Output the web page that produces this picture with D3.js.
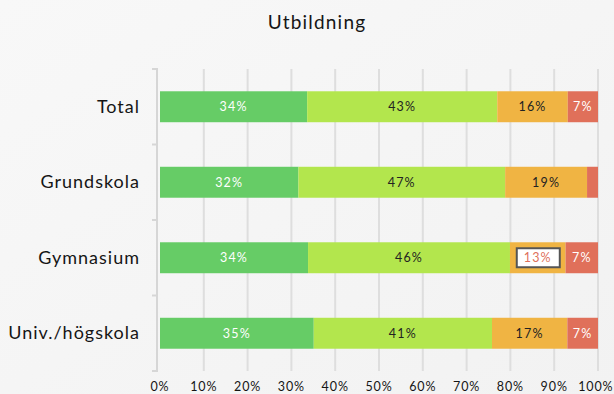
<!DOCTYPE html>
<html>
<head>
<meta charset="utf-8">
<script src="https://cdn.jsdelivr.net/npm/d3@7/dist/d3.min.js"></script>
<style>
  html, body { margin: 0; padding: 0; }
  body { width: 614px; height: 394px; overflow: hidden; }
  svg { display: block; font-family: Lato, "Open Sans", sans-serif; }
</style>
</head>
<body>
<svg id="chart" width="614" height="394"></svg>
<script>
// ---- data ----
const title = "Utbildning";
const categories = ["Total", "Grundskola", "Gymnasium", "Univ./högskola"];
const seriesNames = ["Serie 1", "Serie 2", "Serie 3", "Serie 4"];
const serie1 = [33.6, 31.6, 33.8, 35.1];
const serie2 = [43.4, 47.2, 46.1, 40.7];
const serie3 = [16.1, 18.7, 12.7, 17.2];
const serie4 = [6.9, 2.5, 7.4, 7.0];
const xTicks = [0, 10, 20, 30, 40, 50, 60, 70, 80, 90, 100];
const highlight = { category: "Gymnasium", series: 2 };

const colors = ["#66cc66", "#b3e64d", "#f0b443", "#e0705a"];
const labelColors = ["#ffffff", "#222222", "#222222", "#ffffff"];
const highlightTextColor = "#e0705a";

const svg = d3.select("#chart");
const W = 614, H = 394;

// background
const defs = svg.append("defs");
const grad = defs.append("linearGradient").attr("id", "bg")
  .attr("x1", "0").attr("y1", "0").attr("x2", "1").attr("y2", "1");
grad.append("stop").attr("offset", "0").attr("stop-color", "#f8f8f8");
grad.append("stop").attr("offset", "1").attr("stop-color", "#f2f2f2");
svg.append("rect").attr("width", W).attr("height", H).attr("fill", "url(#bg)");

const x = d3.scaleLinear().domain([0, 100]).range([160, 598]);
const y = d3.scaleBand().domain(categories).range([69, 371])
  .paddingInner(0.59).paddingOuter(0.295);
const yFull = d3.scaleBand().domain(categories).range([69, 371]);

// title
svg.append("text").attr("x", 317).attr("y", 29)
  .attr("text-anchor", "middle").attr("font-size", 19)
  .attr("letter-spacing", 1.2).attr("fill", "#151515").text(title);

// grid
svg.append("g").selectAll("line").data(xTicks.slice(1)).join("line")
  .attr("x1", d => x(d)).attr("x2", d => x(d))
  .attr("y1", 69).attr("y2", 371)
  .attr("stroke", "#dedede").attr("stroke-width", 2);

// y axis line + ticks
const axisG = svg.append("g");
axisG.append("line").attr("x1", 157).attr("x2", 157).attr("y1", 69).attr("y2", 372)
  .attr("stroke", "#d6d6d6").attr("stroke-width", 2);
const boundaries = categories.map(c => yFull(c)).concat([371]);
axisG.selectAll("line.tk").data(boundaries).join("line").attr("class", "tk")
  .attr("x1", 152).attr("x2", 158).attr("y1", d => d).attr("y2", d => d)
  .attr("stroke", "#d6d6d6").attr("stroke-width", 2);

// category labels
svg.append("g").selectAll("text").data(categories).join("text")
  .attr("x", 140).attr("y", d => y(d) + y.bandwidth() / 2 + 6)
  .attr("text-anchor", "end").attr("font-size", 18)
  .attr("letter-spacing", 1).attr("fill", "#151515").text(d => d);

// stacked data
const allSeries = [serie1, serie2, serie3, serie4];
const rows = categories.map((c, i) => {
  const r = { category: c };
  seriesNames.forEach((s, j) => r[s] = allSeries[j][i]);
  return r;
});
const stacked = d3.stack().keys(seriesNames)(rows);

const layers = svg.append("g").selectAll("g").data(stacked).join("g")
  .attr("fill", (d, i) => colors[i]);
layers.selectAll("rect").data(d => d).join("rect")
  .attr("x", d => x(d[0])).attr("width", d => x(d[1]) - x(d[0]))
  .attr("y", d => y(d.data.category)).attr("height", y.bandwidth());

// labels
stacked.forEach((layer, si) => {
  layer.forEach(d => {
    const v = d[1] - d[0];
    if (v < 4) return;
    const cx = (x(d[0]) + x(d[1])) / 2;
    const cy = y(d.data.category) + y.bandwidth() / 2;
    const isHi = highlight.category === d.data.category && highlight.series === si;
    if (isHi) {
      svg.append("rect").attr("x", cx - 21).attr("y", cy - 9.5)
        .attr("width", 43).attr("height", 19)
        .attr("fill", "#fff").attr("stroke", "#555").attr("stroke-width", 2);
    }
    svg.append("text").attr("x", cx).attr("y", cy + 4.5)
      .attr("text-anchor", "middle").attr("font-size", 12.5)
      .attr("letter-spacing", 1.2)
      .attr("fill", isHi ? highlightTextColor : labelColors[si])
      .text(Math.round(v) + "%");
  });
});

// x axis labels
svg.append("g").selectAll("text").data(xTicks).join("text")
  .attr("x", d => x(d)).attr("y", 391)
  .attr("text-anchor", "middle").attr("font-size", 12.5)
  .attr("letter-spacing", 0.9).attr("fill", "#151515").text(d => d + "%")
  .each(function() {
    const bb = this.getBBox();
    if (bb.x + bb.width > W - 0.5) {
      d3.select(this).attr("x", +this.getAttribute("x") - (bb.x + bb.width - (W - 0.5)));
    }
  });
</script>
</body>
</html>
